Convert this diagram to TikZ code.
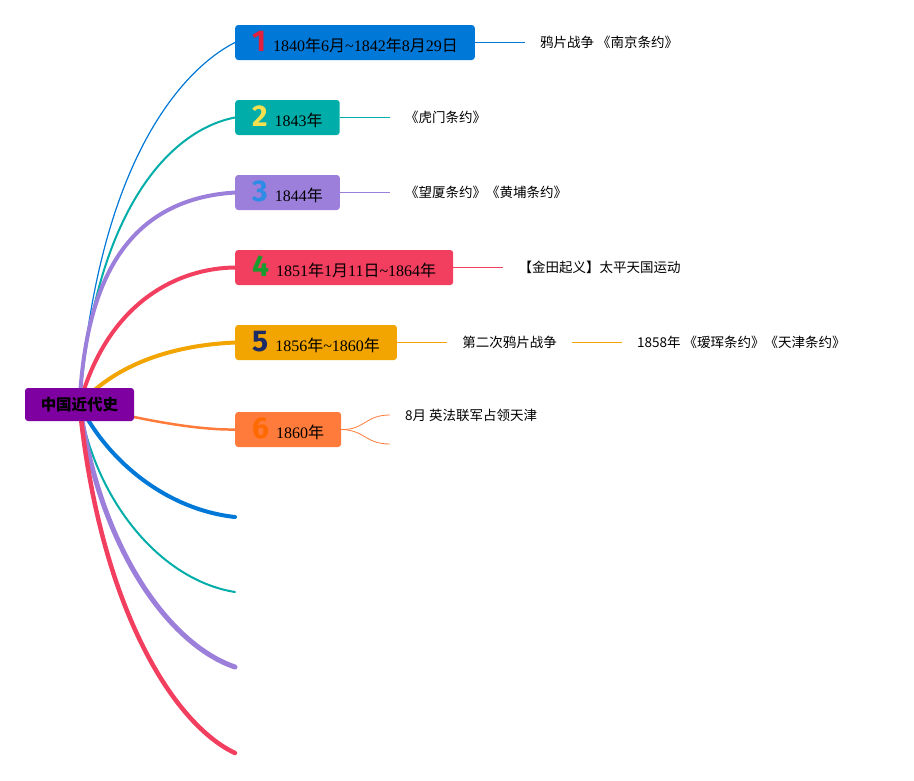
\documentclass[tikz,border=0pt]{standalone}
\usepackage{fontspec}
\setmainfont{Liberation Serif}
\newfontfamily\cjk{Noto Sans CJK SC}
\newfontfamily\numfont{Fira Sans}
\usetikzlibrary{positioning,backgrounds}

\definecolor{rootpurple}{HTML}{7E00A0}
\definecolor{c1}{HTML}{0078D7}
\definecolor{c2}{HTML}{00ADA8}
\definecolor{c3}{HTML}{9B7FDA}
\definecolor{c4}{HTML}{F23F5F}
\definecolor{c5}{HTML}{F2A500}
\definecolor{c6}{HTML}{FF7B3B}
\definecolor{n1}{HTML}{E0203C}
\definecolor{n2}{HTML}{F5E050}
\definecolor{n3}{HTML}{2E8BE6}
\definecolor{n4}{HTML}{1A9B2E}
\definecolor{n5}{HTML}{1C2A66}
\definecolor{n6}{HTML}{FF6A00}

\newcommand\zh[1]{{\cjk #1}}
\newcommand\bignum[2]{{\color{#1}\numfont\bfseries\fontsize{30}{30}\selectfont #2}\hspace{7pt}}

\tikzset{
  root/.style={fill=rootpurple, rounded corners=3pt, minimum width=109pt,
    minimum height=33pt, inner sep=0pt, font=\cjk\bfseries\fontsize{15.5}{18}\selectfont},
  topic/.style={fill=#1, rounded corners=3pt, anchor=west, minimum height=35pt,
    inner xsep=17pt, inner ysep=0pt, text height=21pt, text depth=3pt,
    font=\fontsize{16}{18}\selectfont},
  leaf/.style={inner xsep=15pt, inner ysep=2pt, font=\cjk\fontsize{13.5}{16}\selectfont},
  branch/.style={draw=#1, line cap=round},
}

\begin{document}
\begin{tikzpicture}[x=1pt,y=-1pt]
\useasboundingbox (0,0) rectangle (914,780);

% Root
\node[root] (root) at (79.5,404.5) {中国近代史};

% Topics
\node[topic=c1] (b1) at (235,42.5) {\bignum{n1}{1}1840\zh{年}6\zh{月}\textasciitilde1842\zh{年}8\zh{月}29\zh{日}};
\node[topic=c2] (b2) at (235,117.5) {\bignum{n2}{2}1843\zh{年}};
\node[topic=c3] (b3) at (235,192.5) {\bignum{n3}{3}1844\zh{年}};
\node[topic=c4] (b4) at (235,267.5) {\bignum{n4}{4}1851\zh{年}1\zh{月}11\zh{日}\textasciitilde1864\zh{年}};
\node[topic=c5] (b5) at (235,342.5) {\bignum{n5}{5}1856\zh{年}\textasciitilde1860\zh{年}};
\node[topic=c6] (b6) at (235,429.5) {\bignum{n6}{6}1860\zh{年}};

% Details
\node[leaf, right=50pt of b1] (t1) {鸦片战争 《南京条约》};
\node[leaf, right=50pt of b2] (t2) {《虎门条约》};
\node[leaf, right=50pt of b3] (t3) {《望厦条约》《黄埔条约》};
\node[leaf, right=50pt of b4] (t4) {【金田起义】太平天国运动};
\node[leaf, right=50pt of b5] (t5) {第二次鸦片战争};
\node[leaf, right=50pt of t5] (t5b) {1858年 《瑷珲条约》《天津条约》};
\node[leaf, anchor=west] (t6) at (390,415) {8月 英法联军占领天津};
\coordinate (e6) at (390,444);

% Empty branches
\coordinate (e7) at (235,517);
\coordinate (e8) at (235,592);
\coordinate (e9) at (235,667);
\coordinate (e10) at (235,753);

\begin{scope}[on background layer]
  % Main branches
  \draw[branch=c1, line width=1.2pt] (root.center) .. controls (100,135) and (200,60) .. (b1.west);
  \draw[branch=c2, line width=2pt] (root.center) .. controls (95,210) and (170,130) .. (b2.west);
  \draw[branch=c3, line width=4pt] (root.center) .. controls (85,300) and (115,200) .. (b3.west);
  \draw[branch=c4, line width=4pt] (root.center) .. controls (108,300) and (180,268) .. (b4.west);
  \draw[branch=c5, line width=4pt] (root.center) .. controls (120,360) and (180,345) .. (b5.west);
  \draw[branch=c6, line width=2.5pt] (root.center) .. controls (150,422) and (200,430) .. (b6.west);
  \draw[branch=c1, line width=4pt] (root.center) .. controls (110,465) and (170,510) .. (e7);
  \draw[branch=c2, line width=2pt] (root.center) .. controls (95,500) and (160,580) .. (e8);
  \draw[branch=c3, line width=5pt] (root.center) .. controls (100,550) and (170,645) .. (e9);
  \draw[branch=c4, line width=4.5pt] (root.center) .. controls (100,610) and (175,725) .. (e10);

  % Detail links
  \draw[c1, line width=0.8pt] (b1.east) -- (t1.west);
  \draw[c2, line width=0.8pt] (b2.east) -- (t2.west);
  \draw[c3, line width=0.8pt] (b3.east) -- (t3.west);
  \draw[c4, line width=0.8pt] (b4.east) -- (t4.west);
  \draw[c5, line width=0.8pt] (b5.east) -- (t5.west);
  \draw[c5, line width=0.8pt] (t5.east) -- (t5b.west);
  \draw[c6, line width=0.8pt] (b6.east) .. controls (365,430) and (365,415) .. (t6.west);
  \draw[c6, line width=0.8pt] (b6.east) .. controls (365,430) and (365,444) .. (e6);
\end{scope}
\end{tikzpicture}
\end{document}
